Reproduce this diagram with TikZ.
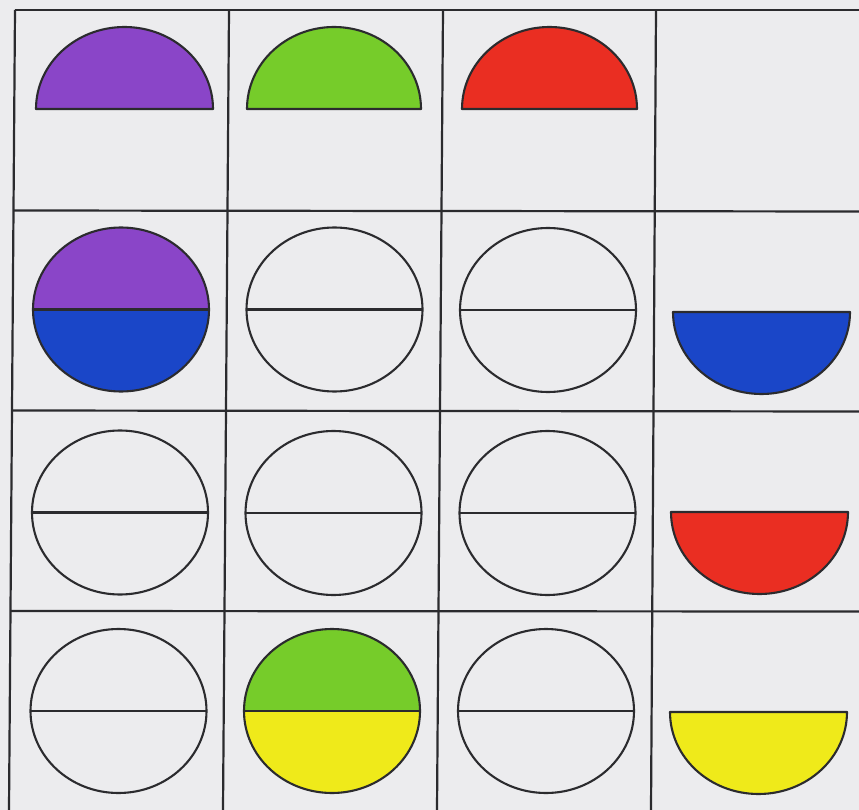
\documentclass[tikz,border=0pt]{standalone}
\definecolor{bgc}{HTML}{ECECEE}
\definecolor{ink}{HTML}{2B2B2E}
\definecolor{cpurple}{HTML}{8A45C8}
\definecolor{cgreen}{HTML}{76CC2A}
\definecolor{cred}{HTML}{EA2E22}
\definecolor{cblue}{HTML}{1A46C8}
\definecolor{cyellow}{HTML}{EFEA1A}
\tikzset{shapeline/.style={draw=ink,line width=2.1pt,line join=round}}
\newcommand{\HalfTop}[4]{% cx cy rx colour
  \filldraw[fill=#4,shapeline] ({#1-#3},#2) arc[start angle=180,end angle=0,x radius=#3pt,y radius=82pt] -- cycle;}
\newcommand{\HalfBot}[4]{%
  \filldraw[fill=#4,shapeline] ({#1-#3},#2) arc[start angle=180,end angle=360,x radius=#3pt,y radius=82pt] -- cycle;}
\newcommand{\SplitDisc}[5]{% cx cy rx top bottom
  \fill[#4] ({#1-#3},#2) arc[start angle=180,end angle=0,x radius=#3pt,y radius=82pt] -- cycle;
  \fill[#5] ({#1-#3},#2) arc[start angle=180,end angle=360,x radius=#3pt,y radius=82pt] -- cycle;
  \draw[shapeline] (#1,#2) ellipse[x radius=#3pt,y radius=82pt];
  \draw[shapeline] ({#1-#3},#2) -- ({#1+#3},#2);}
\begin{document}
\begin{tikzpicture}[x=1pt,y=-1pt]
\useasboundingbox (0,0) rectangle (859,810);
\fill[bgc] (0,0) rectangle (859,810);
% grid
\begin{scope}[ink,line width=2.2pt]
\draw (15,10) -- (859,10);
\draw (13.5,210.5) -- (859,211.5);
\draw (12,410.5) -- (859,411.5);
\draw (10.5,611) -- (859,611.5);
\draw (15,10) -- (9,810);
\draw (229,10) -- (223,810);
\draw (443,10) -- (437,810);
\draw (656,10) -- (651,810);
\end{scope}
% row 1
\HalfTop{124.5}{109}{88.5}{cpurple}
\HalfTop{334}{109}{87}{cgreen}
\HalfTop{549.5}{109}{87.5}{cred}
% row 2
\SplitDisc{121}{309.5}{88}{cpurple}{cblue}
\SplitDisc{334.5}{309.5}{88}{bgc}{bgc}
\SplitDisc{548}{310}{88}{bgc}{bgc}
\HalfBot{761.5}{312}{88.5}{cblue}
% row 3
\SplitDisc{120}{512.5}{88}{bgc}{bgc}
\SplitDisc{333.5}{513}{88}{bgc}{bgc}
\SplitDisc{547.5}{513}{88}{bgc}{bgc}
\HalfBot{759.5}{512}{88.5}{cred}
% row 4
\SplitDisc{118.5}{711}{88}{bgc}{bgc}
\SplitDisc{332}{711}{88}{cgreen}{cyellow}
\SplitDisc{546}{711}{88}{bgc}{bgc}
\HalfBot{758.5}{712}{88.5}{cyellow}
\end{tikzpicture}
\end{document}
